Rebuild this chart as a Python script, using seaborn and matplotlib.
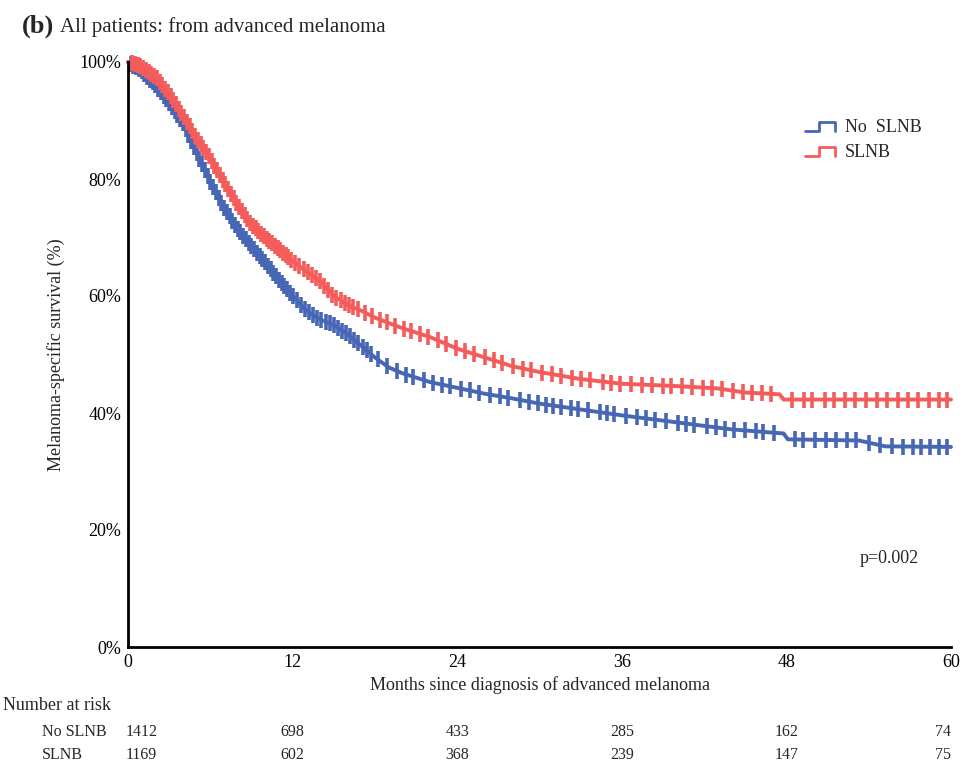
import numpy as np
import pandas as pd
import matplotlib
matplotlib.use("Agg")
import matplotlib.pyplot as plt
import matplotlib.transforms as mtransforms
from matplotlib.lines import Line2D
from matplotlib.legend_handler import HandlerBase
import seaborn as sns

# Kaplan-Meier curves (months, survival %)
no_slnb_t = [0, 1, 2, 3, 4, 5, 6, 7, 8, 9, 10, 11, 12, 13, 14, 15, 16, 17, 18, 19,
             20, 22, 24, 26, 28, 30, 33, 36, 39, 42, 44, 47.8, 48.1, 53.3, 55.2, 60]
no_slnb_s = [100, 98.5, 96, 93, 89.5, 84.5, 79.5, 75, 71.5, 68.5, 65.8, 62.8, 60, 57.5, 56, 55, 53.5, 51.5, 49.5, 47.8,
             46.8, 45.3, 44.3, 43.3, 42.5, 41.6, 40.6, 39.6, 38.7, 37.8, 37.2, 36.5, 35.5, 35.3, 34.3, 34.2]

slnb_t = [0, 1, 2, 3, 4, 5, 6, 7, 8, 9, 10, 11, 12, 13, 14, 15, 16, 17, 18, 20,
          22, 24, 26, 28, 30, 33, 36, 40, 43, 45, 47.5, 47.8, 60]
slnb_s = [100, 99.2, 97.5, 94.5, 91, 87, 83.5, 79.5, 75.5, 72.2, 70, 68, 66, 64.2, 62.5, 60, 58.5, 57.5, 56.3, 54.5,
          53, 51, 49.5, 48, 47, 45.8, 45, 44.6, 44.2, 43.5, 43.2, 42.3, 42.3]

# censoring times (months), read roughly from the tick marks
no_slnb_cens = [0.2, 0.4, 0.6, 0.8, 1.0, 1.2, 1.4, 1.6, 1.8, 2.0, 2.2, 2.4, 2.6, 2.8, 3.0, 3.2, 3.4,
                3.6, 3.8, 4.0, 4.2, 4.4, 4.6, 4.8, 5.0, 5.2, 5.4, 5.6, 5.8, 6.0, 6.2, 6.4, 6.6, 6.8,
                7.0, 7.2, 7.4, 7.6, 7.8, 8.0, 8.2, 8.4, 8.6, 8.8, 9.0, 9.2, 9.4, 9.6, 9.8, 10.0,
                10.2, 10.4, 10.6, 10.8, 11.0, 11.2, 11.4, 11.6, 11.8, 12.0, 12.3, 12.6, 12.9, 13.2,
                13.5, 13.8, 14.1, 14.4, 14.7, 15.0, 15.3, 15.6, 15.9, 16.2, 16.5, 16.8, 17.1, 17.4,
                17.7, 18.2, 18.9, 19.6, 20.3, 20.8, 21.6, 22.2, 22.9, 23.5, 24.3, 24.9, 25.6, 26.4, 27.1,
                27.7, 28.6, 29.2, 29.9, 30.5, 31.0, 31.6, 32.3, 32.8, 33.5, 34.4, 34.9, 35.4, 36.3,
                37.1, 37.8, 38.4, 39.2, 40.1, 40.7, 41.3, 42.2, 42.9, 43.5, 44.2, 45.0, 45.8, 46.3,
                47.1, 48.6, 49.2, 50.1, 50.9, 51.6, 52.4, 53.1, 54.0, 54.8, 55.7, 56.5, 57.2, 57.8,
                58.5, 59.1, 59.7]
slnb_cens = [0.3, 0.5, 0.7, 0.9, 1.1, 1.3, 1.5, 1.7, 1.9, 2.1, 2.3, 2.5, 2.7, 2.9, 3.1, 3.3, 3.5,
             3.7, 3.9, 4.1, 4.3, 4.5, 4.7, 4.9, 5.1, 5.3, 5.5, 5.7, 5.9, 6.1, 6.3, 6.5, 6.7, 6.9,
             7.1, 7.3, 7.5, 7.7, 7.9, 8.1, 8.3, 8.5, 8.7, 8.9, 9.1, 9.3, 9.5, 9.7, 9.9, 10.1,
             10.3, 10.5, 10.7, 10.9, 11.1, 11.3, 11.5, 11.7, 11.9, 12.2, 12.5, 12.8, 13.1, 13.4,
             13.7, 14.0, 14.3, 14.6, 14.9, 15.2, 15.5, 15.8, 16.1, 16.4, 16.8, 17.3, 17.8, 18.4,
             18.9, 19.5, 20.1, 20.6, 21.3, 21.9, 22.6, 23.2, 23.9, 24.6, 25.2, 26.0, 26.7, 27.3,
             28.1, 28.8, 29.4, 30.2, 30.9, 31.6, 32.4, 33.0, 33.7, 34.6, 35.2, 35.9, 36.7, 37.5,
             38.2, 39.0, 39.6, 40.4, 41.1, 41.9, 42.6, 43.3, 44.1, 44.8, 45.5, 46.2, 46.9, 48.4,
             49.3, 49.9, 50.8, 51.5, 52.3, 53.0, 53.8, 54.6, 55.3, 56.1, 56.9, 57.6, 58.4, 59.1, 59.7]

risk_times = [0, 12, 24, 36, 48, 60]
risk_no_slnb = [1412, 698, 433, 285, 162, 74]
risk_slnb = [1169, 602, 368, 239, 147, 75]

groups = ["No  SLNB", "SLNB"]
colors = {"No  SLNB": "#4767b5", "SLNB": "#f45c5c"}

curves = pd.concat([
    pd.DataFrame({"t": no_slnb_t, "s": no_slnb_s, "group": groups[0]}),
    pd.DataFrame({"t": slnb_t, "s": slnb_s, "group": groups[1]}),
])


def surv_at(times, t_arr, s_arr):
    return np.interp(times, t_arr, s_arr)


cens = pd.concat([
    pd.DataFrame({"t": no_slnb_cens, "s": surv_at(no_slnb_cens, no_slnb_t, no_slnb_s), "group": groups[0]}),
    pd.DataFrame({"t": slnb_cens, "s": surv_at(slnb_cens, slnb_t, slnb_s), "group": groups[1]}),
])

sns.set_style("white")
plt.rcParams["font.family"] = ["Liberation Serif", "DejaVu Serif"]

fig = plt.figure(figsize=(9.63, 7.63), dpi=100)
ax = fig.add_axes([128 / 963, 1 - 647 / 763, 823 / 963, 585 / 763])

sns.lineplot(data=curves, x="t", y="s", hue="group", palette=colors, ax=ax,
             linewidth=2.8, legend=False, clip_on=False)
for g in groups:
    sub = cens[cens["group"] == g]
    ax.plot(sub["t"], sub["s"], linestyle="none", marker="|", markersize=11,
            markeredgewidth=2.6, color=colors[g], clip_on=False)

ax.set_xlim(0, 60)
ax.set_ylim(0, 100)
ax.set_xticks(risk_times)
ax.set_xticklabels([str(v) for v in risk_times], fontsize=13)
ax.set_yticks([0, 20, 40, 60, 80, 100])
ax.set_yticklabels(["0%", "20%", "40%", "60%", "80%", "100%"], fontsize=13)
ax.tick_params(axis="both", length=3, width=1, color="black", pad=2, labelcolor="black")
for side in ["top", "right"]:
    ax.spines[side].set_visible(False)
for side in ["left", "bottom"]:
    ax.spines[side].set_color("black")
    ax.spines[side].set_linewidth(2)

ax.set_xlabel("Months since diagnosis of advanced melanoma", fontsize=13, labelpad=4)
ax.set_ylabel("Melanoma-specific survival (%)", fontsize=13, labelpad=10)

ax.text(55.5, 15.2, "p=0.002", ha="center", va="center", fontsize=13)


class StepHandler(HandlerBase):
    def create_artists(self, legend, orig_handle, xdescent, ydescent, width, height, fontsize, trans):
        x0, x1 = -xdescent, -xdescent + width
        xm = x0 + width * 0.45
        y0, y1 = -ydescent + height * 0.1, -ydescent + height * 0.8
        line = Line2D([x0, xm, xm, x1, x1], [y0, y0, y1, y1, y0],
                      color=orig_handle.get_color(), linewidth=2, transform=trans)
        return [line]


handles = [Line2D([], [], color=colors[g]) for g in groups]
ax.legend(handles, groups, handler_map={Line2D: StepHandler()}, loc="upper right",
          bbox_to_anchor=(0.984, 0.93), frameon=False, fontsize=13,
          handlelength=1.65, handletextpad=0.55, labelspacing=0.45)

# title
fig.text(22 / 963, 1 - 26 / 763, "(b)", fontsize=19, fontweight="bold", va="center")
fig.text(60 / 963, 1 - 27 / 763, "All patients: from advanced melanoma", fontsize=15, va="center")

# number at risk table
fig.text(3 / 963, 1 - 706 / 763, "Number at risk", fontsize=13, va="center")
fig.text(42 / 963, 1 - 732 / 763, "No SLNB", fontsize=11.5, va="center")
fig.text(42 / 963, 1 - 755 / 763, "SLNB", fontsize=11.5, va="center")
blend = mtransforms.blended_transform_factory(ax.transData, fig.transFigure)
for row_y, vals in [(1 - 732 / 763, risk_no_slnb), (1 - 755 / 763, risk_slnb)]:
    for i, (t, v) in enumerate(zip(risk_times, vals)):
        ha = "left" if i == 0 else ("right" if i == len(vals) - 1 else "center")
        x = t - 0.15 if i == 0 else t
        ax.text(x, row_y, str(v), transform=blend, ha=ha, va="center", fontsize=11.5)

fig.savefig("out.png", dpi=100)
